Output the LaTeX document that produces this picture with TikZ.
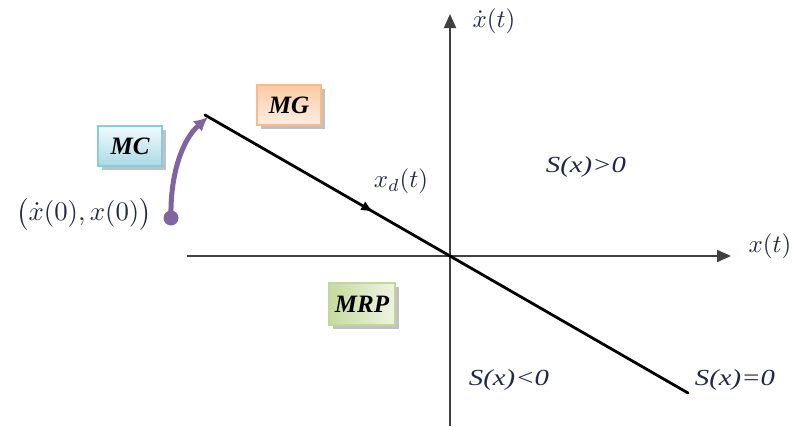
\documentclass[tikz,border=0pt]{standalone}
\usepackage{fontspec}
\setmainfont{Liberation Serif}
\usetikzlibrary{arrows.meta,shadows,decorations.markings}
\definecolor{txt}{HTML}{1F2A44}
\definecolor{axisc}{HTML}{404040}
\definecolor{purp}{HTML}{8064A2}
\definecolor{mgb}{HTML}{F9B98A}
\definecolor{mgf}{HTML}{FBCBA6}
\definecolor{mgl}{HTML}{FEEEE2}
\definecolor{mcb}{HTML}{8CCBDB}
\definecolor{mcf}{HTML}{A9DAE6}
\definecolor{mcl}{HTML}{F2FAFC}
\definecolor{mrb}{HTML}{C3D69B}
\definecolor{mrf}{HTML}{C6DA9F}
\definecolor{mrl}{HTML}{EEF4E2}
\newcommand{\mlab}[1]{\scalebox{2.5}{$#1$}}
\tikzset{
  lbox/.style={draw, line width=1.5pt, minimum width=64pt, minimum height=40pt, inner sep=0pt,
    font=\fontsize{25}{27}\selectfont\bfseries\itshape, text=black,
    drop shadow={shadow xshift=4pt, shadow yshift=-4pt, fill=black!30, opacity=0.8}},
  axisline/.style={draw=axisc, line width=2pt, -{Triangle[length=14pt,width=12pt]}},
  lab/.style={text=txt, inner sep=1pt},
  slab/.style={text=txt, font=\fontsize{23}{25}\selectfont\itshape, inner sep=1pt},
}
\begin{document}
\begin{tikzpicture}[x=1pt,y=-1pt]
\useasboundingbox (0,0) rectangle (798,426);
% axes
\coordinate (hx0) at (187,256);
\coordinate (hx1) at (731,256);
\coordinate (vy0) at (450,426);
\coordinate (vy1) at (450,14);
\draw[axisline] (hx0) -- (hx1);
\draw[axisline] (vy0) -- (vy1);
% sliding line
\coordinate (sA) at (205,115);
\coordinate (sB) at (688,393);
\draw[line width=2.8pt, line cap=round, postaction={decorate},
  decoration={markings, mark=at position 0.35 with {\arrow{Latex[length=13pt,width=10pt]}}}]
  (sA) -- (sB);
% boxes
\node[lbox, draw=mgb, left color=mgf, right color=mgl, shading angle=0] (mg) at (289,105) {MG};
\node[lbox, draw=mcb, top color=mcl, bottom color=mcf] (mc) at (130,146) {MC};
\node[lbox, draw=mrb, left color=mrf, right color=mrl, minimum height=42pt, minimum width=66pt] (mrp) at (362,304) {MRP};
% labels
\node[lab] (ydot) at (494,21) {\mlab{\dot{x}(t)}};
\node[lab] (xt) at (770,246) {\mlab{x(t)}};
\node[lab] (xd) at (401,181) {\mlab{x_d(t)}};
\node[slab] (spos) at (586,167) {\scalebox{1.25}[1]{S(x)>0}};
\node[slab] (sneg) at (509,380) {\scalebox{1.25}[1]{S(x)<0}};
\node[slab] (szero) at (735,380) {\scalebox{1.25}[1]{S(x)=0}};
\node[lab] (init) at (84,214) {\scalebox{1.07}{\mlab{\big(\dot{x}(0),x(0)\big)}}};
% initial point arrow
\coordinate (p0) at (171,218);
\fill[purp] (p0) circle (7.5pt);
\draw[purp, line width=5pt, -{Latex[length=14pt,width=14pt]}]
  (p0) .. controls (170,175) and (182,140) .. (208,117);
\end{tikzpicture}
\end{document}
